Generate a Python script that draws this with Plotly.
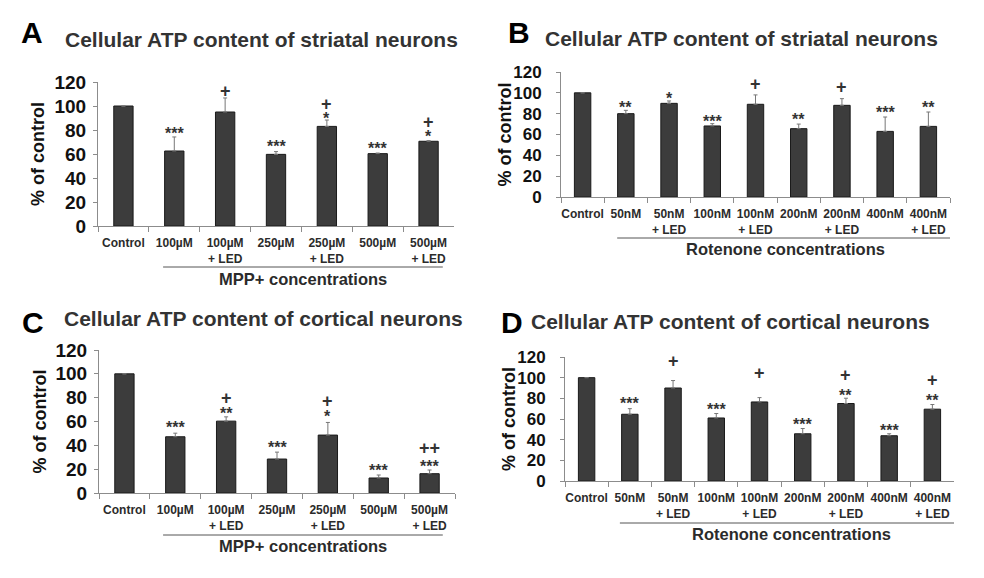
import plotly.graph_objects as go
from plotly.subplots import make_subplots

W, H = 984, 578

cats_mpp = ["Control", "100µM", "100µM<br>+ LED", "250µM", "250µM<br>+ LED", "500µM", "500µM<br>+ LED"]
cats_rot = ["Control", "50nM", "50nM<br>+ LED", "100nM", "100nM<br>+ LED",
            "200nM", "200nM<br>+ LED", "400nM", "400nM<br>+ LED"]

# A: striatal neurons, MPP+
a_vals = [100, 62.5, 95, 59.7, 83, 60.3, 70.6]
a_err = [0, 11.7, 11.7, 2.3, 5.3, 0.5, 0.5]
a_star = ["", "***", "", "***", "*", "***", "*"]
a_star_y = [None, 80, None, 69.4, 92.5, 67.5, 77.8]
a_plus = ["", "", "+", "", "+", "", "+"]
a_plus_y = [None, None, 112.8, None, 101.7, None, 86.7]

# B: striatal neurons, rotenone
b_vals = [100, 80, 89.9, 68.2, 89, 65.6, 88, 63, 67.8]
b_err = [0, 3.2, 2.3, 2.2, 9, 4.4, 6.4, 13.8, 13.8]
b_star = ["", "**", "*", "***", "", "**", "", "***", "**"]
b_star_y = [None, 89.6, 98.6, 76.8, None, 77.8, None, 84.8, 89.6]
b_plus = ["", "", "", "", "+", "", "+", "", ""]
b_plus_y = [None, None, None, None, 108.8, None, 105.6, None, None]

# C: cortical neurons, MPP+
c_vals = [100, 47.2, 60.3, 28.5, 48.6, 12.6, 16.2]
c_err = [0, 3, 3.6, 5.8, 10.6, 2.5, 3.1]
c_star = ["", "***", "**", "***", "*", "***", "***"]
c_star_y = [None, 58.6, 69.8, 41.3, 67.5, 22.3, 25.7]
c_plus = ["", "", "+", "", "+", "", "++"]
c_plus_y = [None, None, 79.5, None, 77.3, None, 37.7]

# D: cortical neurons, rotenone
d_vals = [100, 64.6, 90, 61, 76.5, 45.7, 75, 43.8, 69.5]
d_err = [0, 5.4, 7.2, 4.3, 4.2, 5.1, 5.1, 1.9, 4.5]
d_star = ["", "***", "", "***", "", "***", "**", "***", "**"]
d_star_y = [None, 79.1, None, 72.7, None, 58.9, 86.2, 52.4, 81.3]
d_plus = ["", "", "+", "", "+", "", "+", "", "+"]
d_plus_y = [None, None, 115.7, None, 104.8, None, 102.3, None, 98.1]

FONT = "Liberation Sans, Arial, sans-serif"


def px(x):
    return x / W


def py(y):
    return 1 - y / H


fig = make_subplots(rows=2, cols=2)

panels = [
    dict(letter="A", title="Cellular ATP content of striatal neurons", cats=cats_mpp,
         vals=a_vals, err=a_err, star=a_star, star_y=a_star_y, plus=a_plus, plus_y=a_plus_y,
         group="MPP+ concentrations", box=(98, 454, 82, 226), tpos=(63, 39), lpos=(19, 33),
         ytx=38, tick=19, stand=3, line=(0.78, 6.28, 267), gy=279, row=1, col=1),
    dict(letter="B", title="Cellular ATP content of striatal neurons", cats=cats_rot,
         vals=b_vals, err=b_err, star=b_star, star_y=b_star_y, plus=b_plus, plus_y=b_plus_y,
         group="Rotenone concentrations", box=(561, 950, 72, 197), tpos=(543, 38), lpos=(506, 33),
         ytx=505, tick=17, stand=11, line=(0.8, 8.6, 238), gy=249, row=1, col=2),
    dict(letter="C", title="Cellular ATP content of cortical neurons", cats=cats_mpp,
         vals=c_vals, err=c_err, star=c_star, star_y=c_star_y, plus=c_plus, plus_y=c_plus_y,
         group="MPP+ concentrations", box=(99, 455, 350, 493), tpos=(62, 318), lpos=(20, 322),
         ytx=39, tick=19, stand=3, line=(0.76, 6.26, 535), gy=546, row=2, col=1),
    dict(letter="D", title="Cellular ATP content of cortical neurons", cats=cats_rot,
         vals=d_vals, err=d_err, star=d_star, star_y=d_star_y, plus=d_plus, plus_y=d_plus_y,
         group="Rotenone concentrations", box=(565, 954, 357, 481), tpos=(529, 321), lpos=(499, 322),
         ytx=509, tick=17, stand=11, line=(0.77, 8.7, 523), gy=534, row=2, col=2),
]

annotations = []
shapes = []

for i, p in enumerate(panels):
    fig.add_trace(
        go.Bar(
            x=p["cats"], y=p["vals"], width=0.38,
            marker=dict(color="#3c3c3c", line=dict(color="#1a1a1a", width=1)),
            error_y=dict(type="data", symmetric=False, array=p["err"],
                         arrayminus=[0] * len(p["err"]), color="#777777",
                         thickness=1, width=2),
            showlegend=False, hoverinfo="skip",
        ),
        row=p["row"], col=p["col"],
    )
    l, r, t, b = p["box"]
    sfx = "" if i == 0 else str(i + 1)
    fig.layout["xaxis" + sfx].update(
        domain=[px(l), px(r)], range=[-0.5, len(p["cats"]) - 0.5], automargin=False,
        showline=True, linecolor="#8c8c8c", linewidth=1,
        ticks="outside", tickson="boundaries", ticklen=5, tickcolor="#8c8c8c",
        ticklabelstandoff=6, tickangle=0, showgrid=False, zeroline=False,
        tickfont=dict(family=FONT, size=12, color="#2b2b2b", weight="bold"),
    )
    fig.layout["yaxis" + sfx].update(
        domain=[py(b), py(t)], range=[0, 120], dtick=20, automargin=False,
        showline=True, linecolor="#8c8c8c", linewidth=1,
        ticks="outside", ticklen=4, tickcolor="#8c8c8c",
        ticklabelstandoff=p["stand"], showgrid=False, zeroline=False,
        tickfont=dict(family=FONT, size=p["tick"], color="#111111", weight="bold"),
    )
    xr = "x" + sfx
    yr = "y" + sfx
    for c, s, sy in zip(p["cats"], p["star"], p["star_y"]):
        if s:
            annotations.append(dict(x=c, y=sy, xref=xr, yref=yr, text=s, showarrow=False,
                                    yanchor="middle", yshift=-4,
                                    font=dict(family=FONT, size=16, color="#333333", weight="bold")))
    for c, s, sy in zip(p["cats"], p["plus"], p["plus_y"]):
        if s:
            annotations.append(dict(x=c, y=sy, xref=xr, yref=yr, text=s, showarrow=False,
                                    yanchor="middle",
                                    font=dict(family=FONT, size=18, color="#333333", weight="bold")))
    # panel letter and title
    annotations.append(dict(x=px(p["lpos"][0]), y=py(p["lpos"][1]), xref="paper", yref="paper",
                            text=p["letter"], showarrow=False, xanchor="left", yanchor="middle",
                            font=dict(family=FONT, size=30, color="#000000", weight="bold")))
    annotations.append(dict(x=px(p["tpos"][0]), y=py(p["tpos"][1]), xref="paper", yref="paper",
                            text=p["title"], showarrow=False, xanchor="left", yanchor="middle",
                            font=dict(family=FONT, size=21, color="#333333", weight="bold")))
    # y axis title
    annotations.append(dict(x=px(p["ytx"]), y=py((t + b) / 2), xref="paper", yref="paper",
                            text="% of control", showarrow=False, textangle=-90,
                            xanchor="center", yanchor="middle",
                            font=dict(family=FONT, size=18, color="#111111", weight="bold")))
    # group bracket line and label
    x0, x1, ly = p["line"]
    shapes.append(dict(type="line", xref=xr, yref="paper", x0=x0, x1=x1,
                       y0=py(ly), y1=py(ly), line=dict(color="#555555", width=1)))
    annotations.append(dict(x=(x0 + x1) / 2, y=py(p["gy"]), xref=xr, yref="paper",
                            text=p["group"], showarrow=False, xanchor="center", yanchor="middle",
                            font=dict(family=FONT, size=16.5, color="#2b2b2b", weight="bold")))

fig.update_layout(
    width=W, height=H, autosize=False,
    margin=dict(l=0, r=0, t=0, b=0, pad=0),
    paper_bgcolor="white", plot_bgcolor="white",
    annotations=annotations, shapes=shapes,
    bargap=0.6,
)

fig.write_html("out.html", config={"displayModeBar": False},
               post_script="document.body.style.margin='0';")
